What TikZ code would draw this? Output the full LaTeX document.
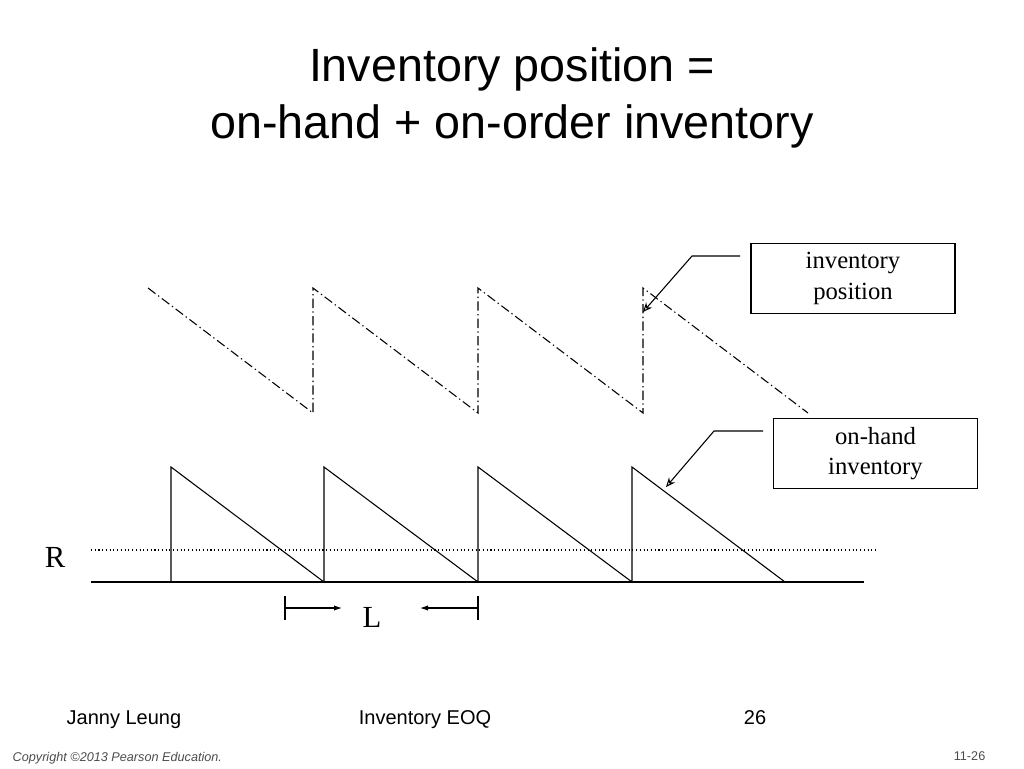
\documentclass[tikz,border=0pt]{standalone}
\usepackage{fontspec}
\setmainfont{Liberation Serif}
\newfontfamily\arialfont{Liberation Sans}
\usetikzlibrary{arrows.meta}

\begin{document}
\begin{tikzpicture}[x=0.75pt, y=-0.75pt]
\tikzstyle{saw}=[black, line width=0.8pt]
\tikzstyle{pos saw}=[saw, dash pattern=on 7pt off 2.5pt on 1pt off 2.5pt]
\tikzstyle{label box}=[draw=black, line width=0.9pt, minimum width=153pt, minimum height=53pt, align=center, font=\fontsize{18.5}{23}\selectfont, inner sep=0pt]
\tikzstyle{callout}=[saw, -{Stealth[open, length=7pt, width=6pt]}]
\tikzstyle{lead}=[saw, -{Latex[length=6pt, width=4pt]}]
\tikzstyle{footer}=[font=\arialfont\fontsize{15}{18}\selectfont, anchor=base]

\useasboundingbox (0,0) rectangle (1024,768);

% title
\node[font=\arialfont\fontsize{35}{43}\selectfont, align=center] (title) at (512,98) {Inventory position =\\on-hand + on-order inventory};

% inventory position (dash-dot)
\draw[pos saw] (148,288)
  \foreach \x in {313,478,643} { -- (\x,413) -- (\x,288) } -- (808,413);

% on-hand inventory
\draw[saw] (91,582) -- (864,582);
\draw[saw] (171,582) -- (171,467)
  \foreach \x in {324,478,632} { -- (\x,582) -- (\x,467) } -- (785,582);

% reorder point
\draw[black, line width=0.8pt, dotted] (91,550) -- (876,550);
\node[font=\fontsize{23}{27}\selectfont] (R) at (55,557) {R};

% lead time
\coordinate (lA) at (285,608);
\coordinate (lB) at (342,608);
\coordinate (rA) at (478,608);
\coordinate (rB) at (420,608);
\draw[saw] (285,596) -- (285,620);
\draw[saw] (478,596) -- (478,620);
\draw[lead] (lA) -- (lB);
\draw[lead] (rA) -- (rB);
\node[font=\fontsize{23}{27}\selectfont] (L) at (372,617) {L};

% callouts
\node[label box] (posbox) at (853,278.5) {inventory\\position};
\node[label box] (handbox) at (875.5,453.5) {on-hand\\inventory};
\coordinate (posknee) at (692,256);
\coordinate (postip) at (643,312);
\coordinate (handknee) at (714,431);
\coordinate (handtip) at (666,487);
\draw[callout] (740,256) -- (posknee) -- (postip);
\draw[callout] (763,431) -- (handknee) -- (handtip);

% footer
\node[footer, anchor=base west] (author) at (62,724) {Janny Leung};
\node[footer] (topic) at (425,724) {Inventory EOQ};
\node[footer] (page) at (755,724) {26};
\node[font=\arialfont\itshape\fontsize{9.5}{11}\selectfont, text=black!70, anchor=west] (copy) at (8,758) {Copyright \textcopyright2013 Pearson Education.};
\node[font=\arialfont\fontsize{9.5}{11}\selectfont, text=black!70, anchor=east] (slide) at (990,756) {11-26};
\end{tikzpicture}
\end{document}
